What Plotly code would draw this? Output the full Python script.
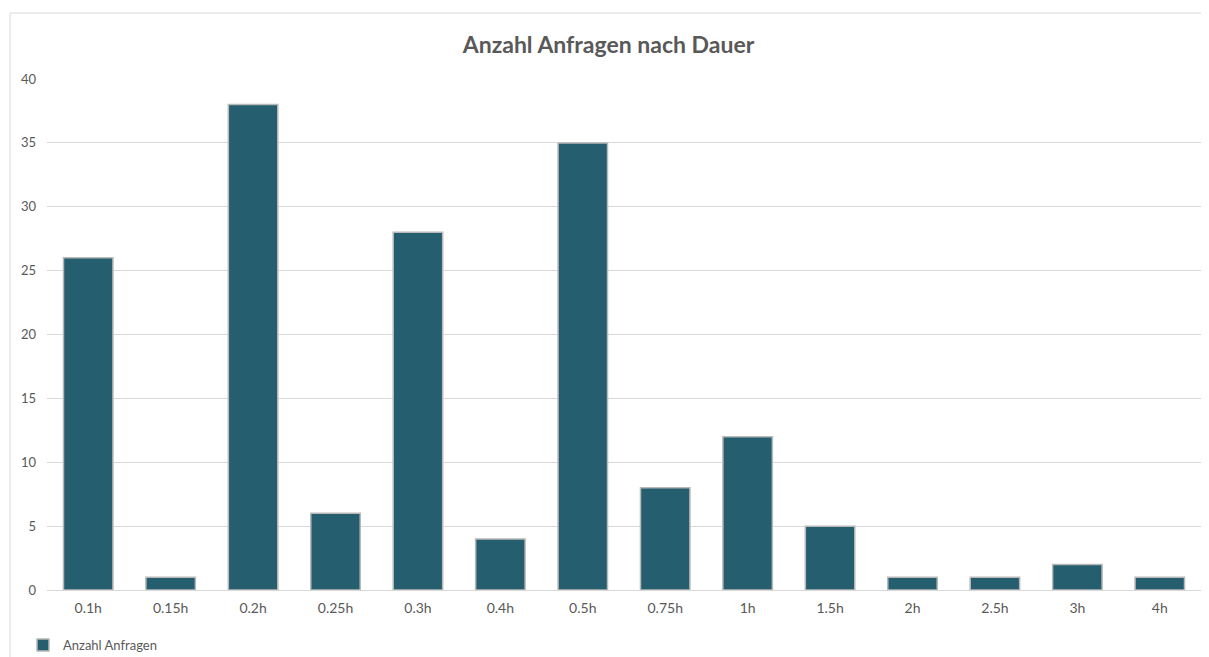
import plotly.graph_objects as go

categories = ["0.1h", "0.15h", "0.2h", "0.25h", "0.3h", "0.4h", "0.5h", "0.75h", "1h", "1.5h", "2h", "2.5h", "3h", "4h"]
values = [26, 1, 38, 6, 28, 4, 35, 8, 12, 5, 1, 1, 2, 1]
series_name = "Anzahl Anfragen"
y_ticks = [0, 5, 10, 15, 20, 25, 30, 35, 40]

OFF = 8  # browser body margin
W, H = 1209 - OFF, 657 - OFF
L, R, T, B = 47 - OFF, 8, 79 - OFF, 67
pw, ph = W - L - R, H - T - B

def px_x(p):  # screen px -> paper
    return (p - OFF - L) / pw

def px_y(p):
    return (H - B - (p - OFF)) / ph

def cx(p):  # screen px -> container
    return (p - OFF) / W

def cy(p):
    return 1 - (p - OFF) / H

fig = go.Figure()
fig.add_trace(go.Bar(
    x=categories, y=values, name=series_name,
    marker=dict(color="#255E6E", line=dict(color="#B8B8B8", width=1.5)),
    width=0.6,
))

fig.update_layout(
    width=W, height=H,
    margin=dict(l=L, r=R, t=T, b=B, pad=0),
    paper_bgcolor="white", plot_bgcolor="white",
    font=dict(family="Lato, Open Sans, Liberation Sans, sans-serif", size=14, color="#595959"),
    title=dict(text="<b>Anzahl Anfragen nach Dauer</b>", x=0.5, xanchor="center",
               y=cy(45), yanchor="middle",
               font=dict(size=23, color="#595959")),
    xaxis=dict(showgrid=False, showline=True, linecolor="#D9D9D9", linewidth=1,
               ticks="outside", ticklen=5, tickcolor="rgba(0,0,0,0)",
               tickfont=dict(size=14, color="#595959"), automargin=False),
    yaxis=dict(range=[0, 40], tickvals=y_ticks, showgrid=True, gridcolor="#D9D9D9",
               gridwidth=1, zeroline=False, showline=False, ticks="",
               tickfont=dict(size=13, color="#595959"), ticklabelstandoff=10,
               automargin=False),
    showlegend=True,
    legend=dict(orientation="h", xref="container", yref="container",
                x=cx(23), xanchor="left", y=cy(645), yanchor="middle",
                font=dict(size=13, color="#595959"), itemwidth=30,
                bgcolor="rgba(0,0,0,0)"),
    bargap=0.4,
)

fig.add_shape(type="rect", xref="paper", yref="paper",
              x0=px_x(10), x1=px_x(1208), y0=px_y(670), y1=px_y(13),
              line=dict(color="#D9D9D9", width=1), fillcolor="rgba(0,0,0,0)", layer="below")

fig.write_html("out.html")
